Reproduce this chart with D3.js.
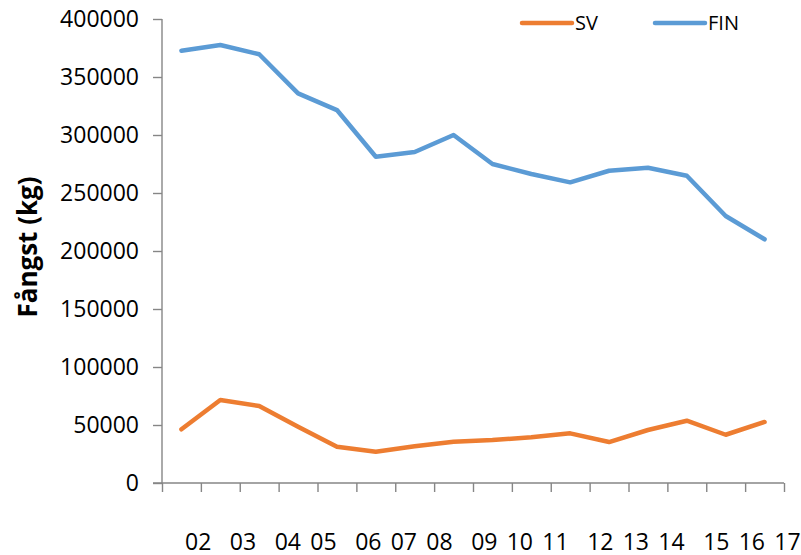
<!DOCTYPE html>
<html>
<head>
<meta charset="utf-8">
<script src="https://cdn.jsdelivr.net/npm/d3@7"></script>
<style>
  html, body { margin: 0; padding: 0; background: #fff; }
  svg { display: block; font-family: 'Open Sans', 'Noto Sans', sans-serif; }
</style>
</head>
<body>
<svg id="chart" width="801" height="555"></svg>
<script>
// tick label line as it appears under the axis
const xLabelText = '02  03  04 05  06 07 08  09 10 11  12 13 14  15 16 17'
const categories = xLabelText.split(/\s+/)
const yTicks = [0, 50000, 100000, 150000, 200000, 250000, 300000, 350000, 400000]

const svData = [46300, 71600, 66400, 48500, 31300, 27000, 31600, 35600, 37100, 39400, 42800, 35300, 45700, 53700, 41600, 52600]
const finData = [372700, 377600, 369600, 335900, 321500, 281300, 285300, 300000, 275000, 266400, 259200, 269200, 271800, 264900, 230200, 210100]

const series = [
  { name: 'SV', data: svData, color: '#ED7D31' },
  { name: 'FIN', data: finData, color: '#5B9BD5' },
]

const cw = 801, ch = 555
const grid = { left: 162, right: 17, top: 19, bottom: 72 }
const axisColor = '#868686'

const svg = d3.select('#chart')

let scaleX = d3.scaleLinear()
  .domain([0, categories.length])
  .range([grid.left, cw - grid.right])
let scaleY = d3.scaleLinear()
  .domain([0, 400000])
  .range([ch - grid.bottom, grid.top])

// y axis
let yAxis = svg.append('g')
  .attr('transform', `translate(${grid.left},0)`)
  .call(d3.axisLeft(scaleY).tickValues(yTicks).tickFormat(d3.format('d')).tickSize(9).tickPadding(14))
yAxis.select('.domain').remove()
yAxis.append('line')
  .attr('y1', scaleY(400000)).attr('y2', scaleY(0))
yAxis.selectAll('line').attr('stroke', axisColor).attr('stroke-width', 1.4)
yAxis.selectAll('text')
  .attr('fill', '#000')
  .style('font-size', '23px')
  .style('font-family', "'Open Sans', sans-serif")

// x axis, ticks on the category boundaries
let xAxis = svg.append('g')
  .attr('transform', `translate(0,${ch - grid.bottom})`)
  .call(d3.axisBottom(scaleX).tickValues(d3.range(categories.length + 1)).tickFormat('').tickSize(9))
xAxis.select('.domain').remove()
xAxis.append('line')
  .attr('x1', grid.left - 9).attr('x2', cw - grid.right)
xAxis.selectAll('line').attr('stroke', axisColor).attr('stroke-width', 1.4)

svg.append('text')
  .attr('x', 185)
  .attr('y', 550)
  .attr('xml:space', 'preserve')
  .style('white-space', 'pre')
  .style('font-size', '23px')
  .style('word-spacing', '3.3px')
  .attr('fill', '#000')
  .text(xLabelText)

// y title
svg.append('text')
  .attr('transform', 'translate(37,247) rotate(-90)')
  .attr('text-anchor', 'middle')
  .style('font-size', '26px')
  .style('font-weight', 'bold')
  .attr('fill', '#000')
  .text('Fångst (kg)')

// lines
let line = d3.line()
  .x((d, i) => scaleX(i + 0.5))
  .y(d => scaleY(d))

series.forEach(s => {
  svg.append('path')
    .attr('d', line(s.data))
    .attr('fill', 'none')
    .attr('stroke', s.color)
    .attr('stroke-width', 4.5)
    .attr('stroke-linejoin', 'round')
    .attr('stroke-linecap', 'round')
})

// legend
let legendX = [522, 655]
series.forEach((s, i) => {
  let g = svg.append('g').attr('transform', `translate(${legendX[i]},23)`)
  g.append('line')
    .attr('x1', 0).attr('x2', 50)
    .attr('stroke', s.color)
    .attr('stroke-width', 4.5)
    .attr('stroke-linecap', 'round')
  g.append('text')
    .attr('x', 53)
    .attr('y', 7)
    .style('font-size', '20px')
    .attr('fill', '#000')
    .text(s.name)
})
</script>
</body>
</html>
